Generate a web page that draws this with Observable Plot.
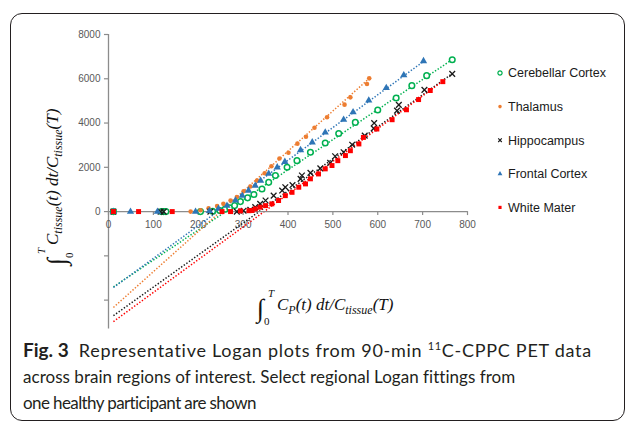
<!DOCTYPE html>
<html><head><meta charset="utf-8">
<script src="https://cdn.jsdelivr.net/npm/d3@7"></script>
<script src="https://cdn.jsdelivr.net/npm/@observablehq/plot@0.6"></script>
<style>
body{margin:0;width:630px;height:423px;position:relative;background:#fff;overflow:hidden}
#chart{position:absolute;left:0;top:0}
#frame{position:absolute;left:10px;top:13px;width:615px;height:408px;border:1.5px solid #231f20;border-radius:12px;box-sizing:border-box;pointer-events:none}
#caption{position:absolute;left:23px;top:337px;width:600px;font-family:Lato,"Open Sans",sans-serif;font-size:17px;line-height:26.5px;color:#231f20;white-space:nowrap}
#caption div{height:26.5px}
#caption b{font-weight:700;font-size:19px;margin-right:10px;letter-spacing:0}
#caption sup{font-size:11px;vertical-align:7px;line-height:0}
#l1{font-size:18px;letter-spacing:0.72px}
#l2{letter-spacing:0.03px}
#l3{letter-spacing:-0.6px}
</style></head>
<body>
<div id="chart"></div>
<div id="caption"><div id="l1"><b>Fig. 3</b>Representative Logan plots from 90-min <sup>11</sup>C-CPPC PET data</div><div id="l2">across brain regions of interest. Select regional Logan fittings from</div><div id="l3">one healthy participant are shown</div></div>
<div id="frame"></div>
<script>
// ---- data ----
const regions = ["Cerebellar Cortex", "Thalamus", "Hippocampus", "Frontal Cortex", "White Mater"];
const regionColors = ["#00b050", "#ed7d31", "#1a1a1a", "#2e75b6", "#ff0000"];

const cerebellarX = [11,118,123,128,205,232,248,260,270,281,294,310,324,342,357,372,398,420,450,483,513,550,600,641,676,709,766];
const cerebellarY = [0,0,0,0,0,15,50,110,170,270,450,620,770,1020,1320,1630,2000,2300,2680,3100,3530,4030,4590,5130,5690,6140,6860];

const thalamusX = [11,183,205,223,242,256,272,286,301,316,331,348,363,381,401,421,440,459,487,526,539,576,581];
const thalamusY = [0,0,60,150,250,350,500,660,920,1130,1400,1730,2050,2400,2660,3070,3380,3790,4260,4830,5160,5765,6018];

const hippocampusX = [11,116,123,227,286,301,316,327,338,350,368,387,394,410,428,431,450,472,494,505,524,543,571,591,592,643,647,704,766];
const hippocampusY = [0,0,0,0,0,40,80,200,350,500,720,950,1100,1200,1480,1630,1750,1950,2200,2500,2680,3020,3430,3760,4000,4560,4820,5500,6220];

const frontalX = [11,49,109,194,225,245,264,283,298,312,327,339,357,376,393,428,454,483,524,545,580,619,658,702];
const frontalY = [0,0,0,0,30,135,270,500,720,950,1170,1400,1710,2000,2250,2780,3130,3580,4150,4490,5020,5590,6160,6800];

const whiteX = [11,67,142,253,272,294,313,320,327,338,350,364,379,394,409,424,439,450,468,483,498,511,528,539,558,568,598,632,664,691,717,745];
const whiteY = [0,0,0,0,0,30,40,50,120,200,270,350,500,720,870,1100,1250,1480,1700,1930,2080,2300,2530,2750,3056,3350,3730,4150,4600,5060,5470,5870];

// linear (Logan) trendlines: slope and intercept per region
const trendSlope = [13.6, 18.15, 14.48, 14.78, 14.8];
const trendIntercept = [-3550, -4530, -4860, -3593, -5133];

const xTicks = [0,100,200,300,400,500,600,700,800];
const yTicks = [-4000,-2000,0,2000,4000,6000,8000];
const yTickLabels = [0,2000,4000,6000,8000];

// ---- build tables ----
const seriesX = [cerebellarX, thalamusX, hippocampusX, frontalX, whiteX];
const seriesY = [cerebellarY, thalamusY, hippocampusY, frontalY, whiteY];
const colorOf = Object.fromEntries(regions.map((r,i)=>[r, regionColors[i]]));
const pts = regions.map((r,i)=> seriesX[i].map((x,j)=>({region:r, x, y: seriesY[i][j]})));
const trend = regions.flatMap((r,i)=>{
  const xs = seriesX[i], x0 = d3.min(xs), x1 = d3.max(xs);
  return [x0, x1].map(x => ({region:r, x, y: trendSlope[i]*x + trendIntercept[i]}));
});

const yMin = -5300, yMax = 8000;
const axisColor = "#8c8c8c", labColor = "#595959";
const sans = "Liberation Sans, Arial, sans-serif";

const plot = Plot.plot({
  width: 630, height: 335,
  marginLeft: 108, marginRight: 163, marginTop: 34, marginBottom: 6.6,
  x: {domain: [0, 800], axis: null},
  y: {domain: [yMin, yMax], axis: null},
  style: {background: "transparent", overflow: "visible"},
  marks: [
    Plot.ruleX([0], {y1: yMin, y2: yMax, stroke: axisColor, strokeWidth: 1.3}),
    Plot.ruleY(yTicks, {y: d=>d, x1: -9, x2: 0, stroke: axisColor, strokeWidth: 1.2}),
    Plot.ruleX(xTicks, {x: d=>d, y1: 0, y2: -180, stroke: axisColor, strokeWidth: 1.2}),
    Plot.text(yTickLabels, {x: 0, y: d=>d, text: d=>String(d), dx: -8, textAnchor: "end", fontSize: 10, fill: labColor, fontFamily: sans}),
    Plot.text(xTicks, {x: d=>d, y: 0, text: d=>String(d), dy: 13, fontSize: 10, fill: labColor, fontFamily: sans}),
    Plot.line(trend, {x: "x", y: "y", z: "region", stroke: d=>colorOf[d.region], strokeWidth: 1.5, strokeDasharray: "1.4,1.8", strokeLinecap: "butt"}),
    Plot.ruleY([0], {x1: 0, x2: 800, stroke: axisColor, strokeWidth: 1.3}),
    Plot.dot(pts[0], {x: "x", y: "y", symbol: "circle", r: 2.8, stroke: regionColors[0], strokeWidth: 1.5, fill: "white"}),
    Plot.dot(pts[1], {x: "x", y: "y", symbol: "circle", r: 2.3, fill: regionColors[1], stroke: "none"}),
    Plot.dot(pts[2], {x: "x", y: "y", symbol: "times", r: 2.7, stroke: regionColors[2], strokeWidth: 1.3}),
    Plot.dot(pts[3], {x: "x", y: "y", symbol: "triangle", r: 2.7, fill: regionColors[3], stroke: "none"}),
    Plot.dot(pts[4], {x: "x", y: "y", symbol: "square", r: 2.8, fill: regionColors[4], stroke: "none"})
  ]
});
document.getElementById("chart").appendChild(plot);

// ---- legend and axis titles ----
const svg = d3.select(plot);
const legendSym = [d3.symbolCircle, d3.symbolCircle, d3.symbolTimes, d3.symbolTriangle, d3.symbolSquare];
const lg = svg.append("g").attr("font-family", sans).attr("font-size", 12.5).attr("fill", "#1a1a1a").attr("text-anchor", "start");
regions.forEach((r,i)=>{
  const y = 73 + i*33.6;
  const p = lg.append("path").attr("d", d3.symbol(legendSym[i], i===0?14:10)()).attr("transform", `translate(500,${y})`);
  if (i===0) p.attr("fill","white").attr("stroke",regionColors[i]).attr("stroke-width",1.2);
  else if (i===2) p.attr("fill","none").attr("stroke",regionColors[i]).attr("stroke-width",1.1);
  else p.attr("fill",regionColors[i]);
  lg.append("text").attr("x", 508).attr("y", y).attr("dy","0.35em").text(r);
});

function mathTitle(g, lower, upper, parts){
  const f = "Liberation Serif, DejaVu Serif, serif";
  g.attr("text-anchor","start").attr("fill","#111");
  g.append("text").attr("x",0).attr("y",7).attr("font-family",f).attr("font-size",26).attr("font-style","italic").text("∫");
  g.append("text").attr("x",11).attr("y",-13).attr("font-family",f).attr("font-size",11).attr("font-style","italic").text(upper);
  g.append("text").attr("x",7).attr("y",15).attr("font-family",f).attr("font-size",11).text(lower);
  const t = g.append("text").attr("x",20).attr("y",0).attr("font-family",f).attr("font-size",17).attr("font-style","italic");
  parts.forEach(([s, sub])=>{
    const ts = t.append("tspan").text(s);
    if (sub==="sub") ts.attr("dy",4).attr("font-size",12);
    if (sub==="back") ts.attr("dy",-4);
  });
}
const yt = svg.append("g").attr("transform","translate(58,265) rotate(-90)");
mathTitle(yt, "0", "T", [["C"],["tissue","sub"],["(t) dt/C","back"],["tissue","sub"],["(T)","back"]]);
const xt = svg.append("g").attr("transform","translate(257,310)");
mathTitle(xt, "0", "T", [["C"],["P","sub"],["(t) dt/C","back"],["tissue","sub"],["(T)","back"]]);
</script>
</body></html>
